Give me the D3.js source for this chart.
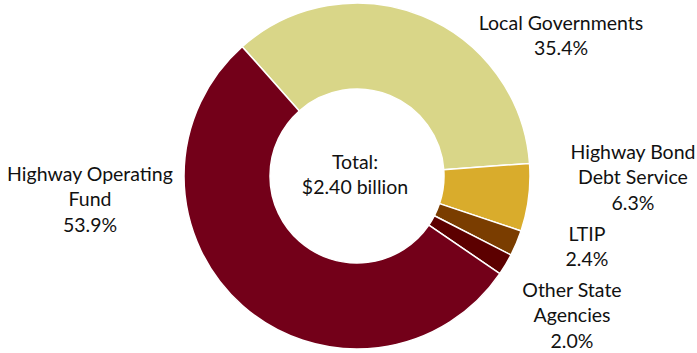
<!DOCTYPE html>
<html><head><meta charset="utf-8">
<script src="https://cdn.jsdelivr.net/npm/d3@7"></script>
<style>body{margin:0;background:#fff}svg{display:block}text{font-family:Lato,"Open Sans",sans-serif;fill:#111}</style>
</head><body>
<script>
const categories = ["Local Governments","Highway Bond Debt Service","LTIP","Other State Agencies","Highway Operating Fund"];
const values = [35.4, 6.3, 2.4, 2.0, 53.9];
const labelLines = [["Local Governments","35.4%"],["Highway Bond","Debt Service","6.3%"],["LTIP","2.4%"],["Other State","Agencies","2.0%"],["Highway Operating","Fund","53.9%"]];
const colors = ["#d9d688","#d9ac2c","#7a3d00","#5c0000","#730019"];
const centerText = ["Total:","$2.40 billion"];

const W=697,H=353, cx=357, cy=176, R=173, r=87;
const svg=d3.select("body").append("svg").attr("width",W).attr("height",H);
const start=-41.6*Math.PI/180;
const pie=d3.pie().sort(null).value(d=>d).startAngle(start).endAngle(start+2*Math.PI);
const arc=d3.arc().innerRadius(r).outerRadius(R);
const g=svg.append("g").attr("transform",`translate(${cx},${cy})`);
g.selectAll("path").data(pie(values)).join("path")
 .attr("d",arc).attr("fill",(d,i)=>colors[i]).attr("stroke","#fff").attr("stroke-width",1.5);

const labelPos=[[561,23],[633,152],[587,234],[572,290],[90,174]];
const lh=25.5;
const fs=19.5;
labelLines.forEach((lines,i)=>{
  const t=svg.append("text").attr("text-anchor","middle").attr("font-size",fs);
  lines.forEach((l,j)=>t.append("tspan").attr("x",labelPos[i][0]).attr("y",labelPos[i][1]+j*lh).attr("dy","0.35em").text(l));
});
const ct=svg.append("text").attr("text-anchor","middle").attr("font-size",fs);
centerText.forEach((l,j)=>ct.append("tspan").attr("x",cx-2).attr("y",cy-14+j*25.5).attr("dy","0.35em").text(l));
</script>
</body></html>
